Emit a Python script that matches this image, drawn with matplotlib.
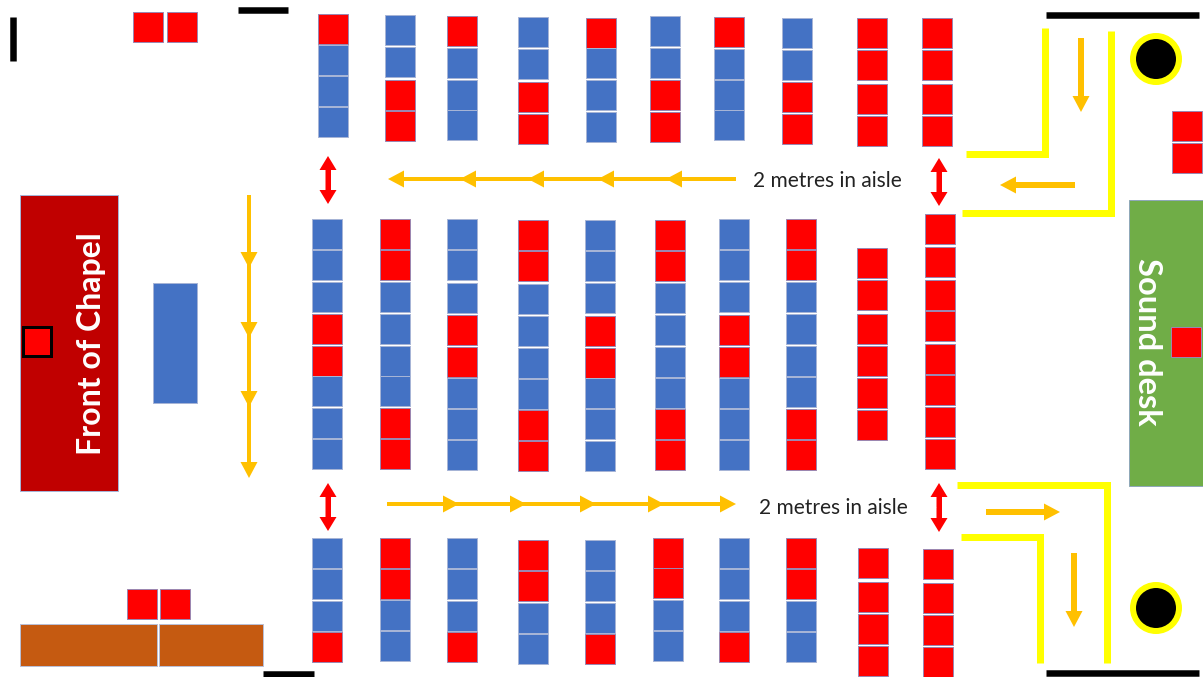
import matplotlib
matplotlib.use('Agg')
import matplotlib.pyplot as plt
from matplotlib.patches import Rectangle, Circle, FancyArrowPatch

RED = '#FF0000'
BLUE = '#4472C4'
ORANGE = '#FFC000'
YELLOW = '#FFFF00'
PX = 0.72  # points per pixel at dpi 100

# seat colours per column, front to back: r = reserved, b = open
top_seats = ['rbbb', 'bbrr', 'rbbb', 'bbrr', 'rbbb', 'bbrr', 'rbbb', 'bbrr', 'rrrr', 'rrrr']
mid_seats = ['bbbrrbbb', 'rrbbbbrr', 'bbbrrbbb', 'rrbbbbrr', 'bbbrrbbb',
             'rrbbbbrr', 'bbbrrbbb', 'rrbbbbrr', 'rrrrrr', 'rrrrrrrr']
low_seats = ['bbbr', 'rrbb', 'bbbr', 'rrbb', 'bbbr', 'rrbb', 'bbbr', 'rrbb', 'rrrr', 'rrrr']

# left edge of each column and the top edge of each seat in it
top_x = [318, 385, 447, 518, 586, 650, 714, 782, 857, 922]
top_y = [[14, 45, 76, 107], [15, 47, 80, 111], [16, 48, 80, 110], [17, 49, 82, 114], [18, 48, 80, 112],
         [16, 48, 80, 112], [17, 49, 80, 110], [18, 50, 82, 114], [18, 50, 84, 116], [18, 50, 84, 116]]
mid_x = [312, 380, 447, 518, 585, 655, 719, 786, 857, 925]
mid_y = [[219, 250, 282, 314, 346, 376, 408, 439], [219, 250, 282, 314, 346, 376, 408, 439],
         [219, 250, 283, 315, 347, 378, 409, 440], [220, 251, 284, 316, 348, 379, 410, 441],
         [220, 251, 283, 316, 348, 378, 409, 441], [220, 251, 283, 315, 347, 378, 409, 440],
         [219, 250, 282, 315, 347, 378, 409, 440], [219, 250, 282, 314, 346, 377, 409, 440],
         [248, 280, 314, 346, 378, 410], [214, 247, 280, 311, 344, 375, 407, 439]]
low_x = [312, 380, 447, 518, 585, 653, 719, 786, 858, 923]
low_y = [[538, 569, 601, 632], [538, 569, 600, 631], [538, 569, 601, 632], [540, 571, 603, 634],
         [540, 571, 603, 634], [538, 568, 600, 631], [538, 569, 601, 632], [538, 569, 601, 632],
         [548, 582, 614, 646], [549, 583, 615, 647]]

# loose red seats (x, y)
extra_seats = [(133, 12), (167, 12), (127, 589), (160, 589), (1172, 111), (1172, 143), (1171, 327)]

# wall sections and taped lanes
walls = [((1046, 15), (1199, 15)), ((1046, 673), (1199, 673)), ((238, 10), (288, 10)),
         ((263, 674), (314, 674)), ((13, 17), (13, 61))]
lanes = [[(966, 154), (1045, 154), (1045, 28)], [(962, 213), (1111, 213), (1111, 31)],
         [(957, 485), (1107, 485), (1107, 663)], [(961, 537), (1040, 537), (1040, 663)]]
pillars = [(1156, 59), (1156, 608)]

# one-way routes: start, then each arrow head tip along the way
routes = [[(249, 195), (249, 268), (249, 338), (249, 407), (249, 478)],
          [(736, 179), (666, 179), (598, 179), (528, 179), (460, 179), (388, 179)],
          [(387, 504), (459, 504), (526, 504), (596, 504), (664, 504), (736, 504)]]
short_arrows = [((1081, 38), (1081, 112)), ((1075, 185), (1000, 185)),
                ((986, 512), (1060, 512)), ((1074, 553), (1074, 627))]
double_arrows = [(328, 156, 204), (939, 158, 206), (328, 483, 531), (939, 483, 532)]
aisle_labels = [(753, 181, '2 metres in aisle'), (759, 508, '2 metres in aisle')]


def rect(ax, x0, y0, x1, y1, color, edge='#A6B4D6', z=2, lw=1.0):
    ax.add_patch(Rectangle((x0, y0), x1 - x0, y1 - y0, facecolor=color, edgecolor=edge, linewidth=lw * PX, zorder=z))


def arrow(ax, start, end, color, tail, head_len, head_w):
    style = 'simple,head_length=%f,head_width=%f,tail_width=%f' % (head_len * PX, head_w * PX, tail * PX)
    ax.add_patch(FancyArrowPatch(start, end, arrowstyle=style, mutation_scale=1, shrinkA=0, shrinkB=0,
                                 color=color, linewidth=0, zorder=3))


fig = plt.figure(figsize=(12.03, 6.77), dpi=100)
ax = fig.add_axes([0, 0, 1, 1])
ax.set_xlim(0, 1203)
ax.set_ylim(677, 0)
ax.axis('off')

# pews
for xs, ys, seats in [(top_x, top_y, top_seats), (mid_x, mid_y, mid_seats), (low_x, low_y, low_seats)]:
    for x, col_y, col in zip(xs, ys, seats):
        for y, s in zip(col_y, col):
            if s == 'r':
                rect(ax, x, y, x + 30, y + 30, RED, edge='#9C86B0')
            else:
                rect(ax, x, y, x + 30, y + 30, BLUE)

for x, y in extra_seats:
    rect(ax, x, y, x + 30, y + 30, RED, edge='#9C86B0', z=4)

# fixed furniture
rect(ax, 20, 195, 118, 491, '#C00000')
rect(ax, 153, 283, 197, 403, BLUE)
rect(ax, 20, 624, 157, 666, '#C55A11', edge='#B9BFD6')
rect(ax, 159, 624, 263, 666, '#C55A11', edge='#B9BFD6')
rect(ax, 1129, 200, 1210, 486, '#70AD47', edge='#8FA8B8')
rect(ax, 23, 327, 51, 356, RED, edge='black', z=4, lw=3)

for a, b in walls:
    ax.plot([a[0], b[0]], [a[1], b[1]], color='black', lw=6.5 * PX, solid_capstyle='butt', zorder=3)
for lane in lanes:
    ax.plot([p[0] for p in lane], [p[1] for p in lane], color=YELLOW, lw=7 * PX,
            solid_capstyle='butt', solid_joinstyle='miter', zorder=3)
for cx, cy in pillars:
    ax.add_patch(Circle((cx, cy), 23, facecolor='black', edgecolor=YELLOW, linewidth=6 * PX, zorder=3))

for route in routes:
    # shaft runs through the heads, only the last one keeps a sharp tip
    ax.plot([route[0][0], route[-2][0]], [route[0][1], route[-2][1]], color=ORANGE, lw=4 * PX,
            solid_capstyle='butt', zorder=3)
    for a, b in zip(route[:-1], route[1:]):
        arrow(ax, a, b, ORANGE, 4, 16, 17)
for a, b in short_arrows:
    arrow(ax, a, b, ORANGE, 6, 16, 17)
for x, y0, y1 in double_arrows:
    ax.plot([x, x], [y0 + 10, y1 - 10], color=RED, lw=5 * PX, solid_capstyle='butt', zorder=3)
    mid = (y0 + y1) / 2
    arrow(ax, (x, mid), (x, y0), RED, 5, 14, 17)
    arrow(ax, (x, mid), (x, y1), RED, 5, 14, 17)

for x, y, label in aisle_labels:
    ax.text(x, y, label, fontsize=15, family='Lato', color='#222222', ha='left', va='center', zorder=5)
ax.text(91, 344, 'Front of Chapel', fontsize=23, family='Lato', fontweight='bold', color='white',
        rotation=90, ha='center', va='center', zorder=5)
ax.text(1148, 342, 'Sound desk', fontsize=23.5, family='Lato', fontweight='bold', color='white',
        rotation=270, ha='center', va='center', zorder=5)

fig.savefig('out.png', dpi=100)
